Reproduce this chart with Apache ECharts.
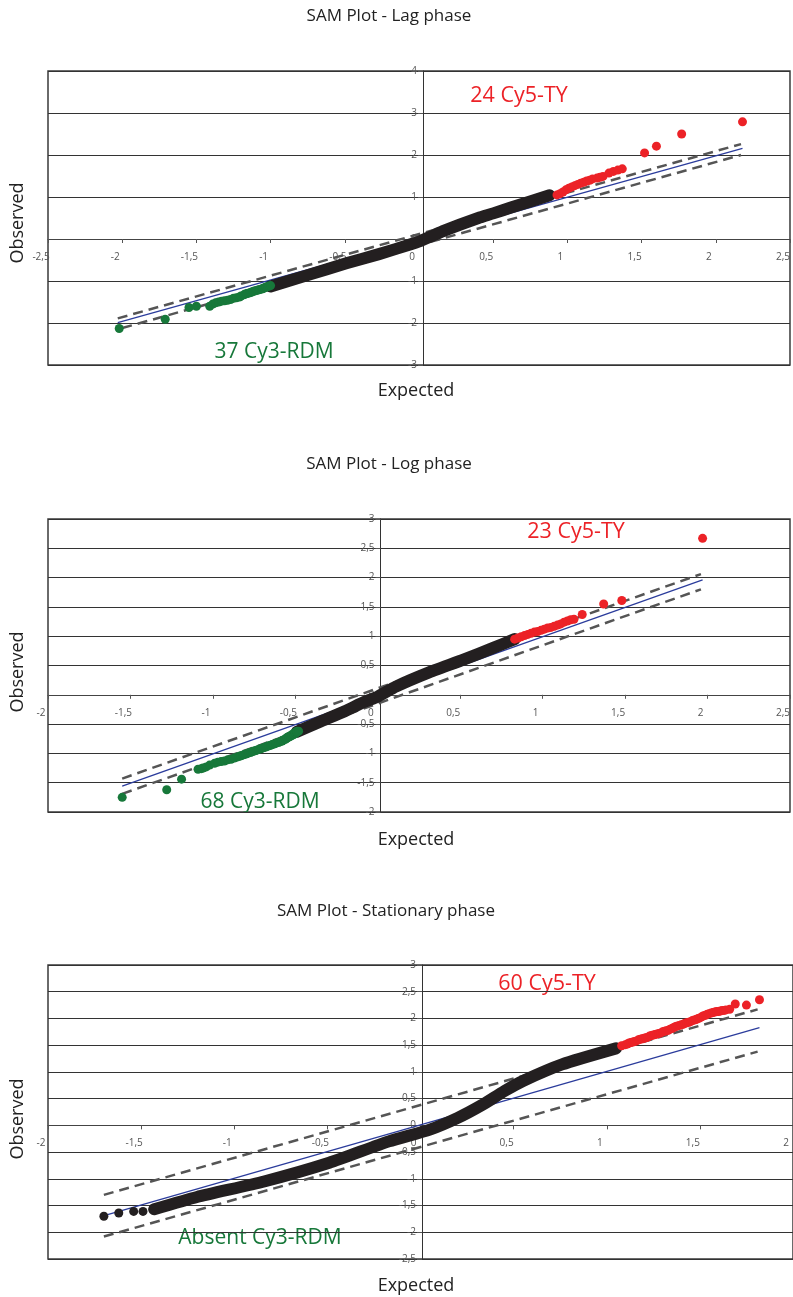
<!DOCTYPE html>
<html>
<head>
<meta charset="utf-8">
<script src="https://cdn.jsdelivr.net/npm/echarts@6/dist/echarts.min.js"></script>
<style>html,body{margin:0;padding:0;background:#fff}#c{width:793px;height:1297px}</style>
</head>
<body>
<div id="c"></div>
<script>
// ---------- Plot 1: Lag phase ----------
const lagBand = [[-1.00,-1.13],[-0.75,-0.86],[-0.49,-0.58],[-0.27,-0.36],[-0.05,-0.12],[0.00,-0.06],[0.08,0.06],[0.17,0.20],[0.40,0.50],[0.50,0.61],[0.62,0.75],[0.88,1.04]];
const lagRed = [[0.93,1.05],[0.95,1.08],[0.97,1.12],[0.99,1.17],[1.01,1.21],[1.03,1.24],[1.05,1.27],[1.07,1.30],[1.09,1.33],[1.11,1.35],[1.13,1.38],[1.15,1.40],[1.17,1.43],[1.20,1.45],[1.22,1.47],[1.24,1.49],[1.28,1.57],[1.31,1.61],[1.34,1.64],[1.37,1.67],[1.52,2.05],[1.60,2.21],[1.77,2.50],[2.18,2.79]];
const lagGreen = [[-2.02,-2.13],[-1.71,-1.91],[-1.55,-1.63],[-1.50,-1.60],[-1.41,-1.60],[-1.39,-1.55],[-1.37,-1.52],[-1.35,-1.50],[-1.33,-1.48],[-1.31,-1.47],[-1.29,-1.46],[-1.27,-1.44],[-1.25,-1.41],[-1.23,-1.40],[-1.21,-1.38],[-1.20,-1.36],[-1.18,-1.33],[-1.17,-1.31],[-1.16,-1.30],[-1.15,-1.29],[-1.14,-1.28],[-1.13,-1.27],[-1.12,-1.25],[-1.11,-1.24],[-1.10,-1.23],[-1.09,-1.22],[-1.08,-1.21],[-1.07,-1.20],[-1.06,-1.19],[-1.05,-1.18],[-1.05,-1.17],[-1.04,-1.16],[-1.03,-1.15],[-1.03,-1.14],[-1.02,-1.13],[-1.01,-1.12],[-1.00,-1.11]];
const lagExpected = [[-2.03,-1.99],[2.18,2.16]];
const lagUpper = [[-2.03,-1.89],[2.17,2.26]];
const lagLower = [[-2.00,-2.12],[2.17,2.00]];

// ---------- Plot 2: Log phase ----------
const logBand = [[-0.49,-0.63],[-0.35,-0.46],[-0.20,-0.28],[-0.08,-0.12],[0.00,-0.03],[0.11,0.14],[0.30,0.37],[0.52,0.60],[0.70,0.80],[0.83,0.95]];
const logRed = [[0.83,0.95],[0.85,0.97],[0.87,0.99],[0.89,1.01],[0.91,1.03],[0.93,1.05],[0.95,1.07],[0.97,1.08],[0.99,1.10],[1.01,1.12],[1.03,1.14],[1.05,1.15],[1.07,1.17],[1.09,1.19],[1.11,1.21],[1.13,1.24],[1.15,1.26],[1.17,1.28],[1.19,1.29],[1.24,1.37],[1.37,1.55],[1.48,1.61],[1.97,2.67]];
const logGreen = [[-1.55,-1.75],[-1.28,-1.62],[-1.19,-1.44],[-1.09,-1.27],[-1.07,-1.26],[-1.06,-1.25],[-1.04,-1.23],[-1.02,-1.20],[-0.99,-1.17],[-0.97,-1.15],[-0.95,-1.14],[-0.93,-1.13],[-0.91,-1.11],[-0.89,-1.10],[-0.87,-1.08],[-0.85,-1.06],[-0.84,-1.05],[-0.83,-1.04],[-0.82,-1.03],[-0.81,-1.02],[-0.80,-1.01],[-0.79,-1.00],[-0.78,-0.99],[-0.77,-0.98],[-0.76,-0.97],[-0.75,-0.96],[-0.74,-0.95],[-0.73,-0.94],[-0.72,-0.93],[-0.71,-0.92],[-0.70,-0.91],[-0.69,-0.90],[-0.68,-0.89],[-0.67,-0.88],[-0.66,-0.87],[-0.65,-0.86],[-0.64,-0.85],[-0.63,-0.84],[-0.62,-0.83],[-0.61,-0.82],[-0.60,-0.81],[-0.59,-0.80],[-0.58,-0.79],[-0.58,-0.78],[-0.57,-0.77],[-0.56,-0.76],[-0.56,-0.75],[-0.55,-0.74],[-0.55,-0.73],[-0.54,-0.72],[-0.54,-0.71],[-0.53,-0.71],[-0.53,-0.70],[-0.52,-0.69],[-0.52,-0.68],[-0.51,-0.68],[-0.51,-0.67],[-0.51,-0.66],[-0.50,-0.66],[-0.50,-0.65],[-0.50,-0.65],[-0.50,-0.64],[-0.49,-0.64],[-0.49,-0.63],[-0.49,-0.63],[-0.49,-0.63],[-0.49,-0.62],[-0.48,-0.62]];
const logExpected = [[-1.55,-1.56],[1.97,1.96]];
const logUpper = [[-1.55,-1.43],[1.96,2.06]];
const logLower = [[-1.55,-1.69],[1.96,1.80]];

// ---------- Plot 3: Stationary phase ----------
const statBand = [[-1.43,-1.57],[-1.20,-1.34],[-0.84,-1.05],[-0.49,-0.70],[-0.17,-0.30],[0.05,-0.08],[0.20,0.14],[0.33,0.38],[0.45,0.64],[0.55,0.83],[0.76,1.14],[1.05,1.44]];
const statBlack = [[-1.70,-1.70],[-1.62,-1.64],[-1.54,-1.61],[-1.49,-1.61],[-1.43,-1.57]];
const statRed = [[1.08,1.49],[1.10,1.51],[1.11,1.52],[1.12,1.54],[1.13,1.55],[1.14,1.56],[1.15,1.57],[1.16,1.58],[1.17,1.60],[1.18,1.61],[1.19,1.62],[1.20,1.63],[1.21,1.64],[1.22,1.65],[1.23,1.67],[1.24,1.68],[1.25,1.69],[1.26,1.70],[1.27,1.71],[1.28,1.72],[1.29,1.73],[1.30,1.75],[1.31,1.76],[1.32,1.77],[1.33,1.78],[1.34,1.80],[1.35,1.81],[1.36,1.83],[1.37,1.85],[1.38,1.86],[1.39,1.87],[1.40,1.88],[1.41,1.89],[1.42,1.91],[1.43,1.92],[1.44,1.93],[1.45,1.94],[1.46,1.96],[1.47,1.97],[1.48,1.98],[1.49,2.00],[1.50,2.01],[1.51,2.03],[1.52,2.05],[1.53,2.06],[1.54,2.08],[1.55,2.09],[1.56,2.10],[1.57,2.11],[1.58,2.12],[1.59,2.13],[1.60,2.13],[1.61,2.14],[1.62,2.15],[1.63,2.15],[1.64,2.16],[1.66,2.17],[1.69,2.27],[1.75,2.25],[1.82,2.35]];
const statExpected = [[-1.68,-1.67],[1.82,1.83]];
const statUpper = [[-1.70,-1.30],[1.81,2.17]];
const statLower = [[-1.70,-2.08],[1.81,1.38]];

// ---------- Axis definitions (tick values) ----------
const xRanges = [[-2.5,2.5,0.5],[-2,2.5,0.5],[-2,2,0.5]];
const yRanges = [[-3,4,1],[-2,3,0.5],[-2.5,3,0.5]];
const titles = ['SAM Plot - Lag phase','SAM Plot - Log phase','SAM Plot - Stationary phase'];
const redLabels = ['24 Cy5-TY','23 Cy5-TY','60 Cy5-TY'];
const greenLabels = ['37 Cy3-RDM','68 Cy3-RDM','Absent Cy3-RDM'];

const RED = '#ec2227', GREEN = '#17783a', BLACK = '#231f20', BLUE = '#2b3c9c', DASH = '#555555';
const FONT = '"Open Sans", "Noto Sans", sans-serif';
const fmt = v => String(v).replace('.', ',');

const grids = [
  {left:48, top:71, width:750, height:294},
  {left:48, top:519, width:748, height:293},
  {left:48, top:965, width:748, height:294}
];

const xAxis = [], yAxis = [], series = [];
grids.forEach((g, i) => {
  g.show = true; g.borderColor = '#3a3a3a'; g.borderWidth = 1.5; g.backgroundColor = 'transparent';
  const [x0, x1] = xRanges[i], [y0, y1] = yRanges[i];
  // axes cross at the origin: shift each axis from the grid edge to the zero of the other
  const xOff = -g.height * (0 - y0) / (y1 - y0);
  const yOff = -g.width * (0 - x0) / (x1 - x0);
  xAxis.push({
    type:'value', gridIndex:i, min:x0, max:x1, interval:xRanges[i][2], position:'bottom', offset:xOff,
    axisLine:{onZero:false, lineStyle:{color:'#444', width:1}},
    axisTick:{show:true, inside:false, length:4, lineStyle:{color:'#555'}},
    axisLabel:{formatter:fmt, fontSize:10, color:'#555', fontFamily:FONT, margin:13, padding:[0,14,0,0], showMinLabel:true, showMaxLabel:true},
    splitLine:{show:false}
  });
  yAxis.push({
    type:'value', gridIndex:i, min:y0, max:y1, interval:yRanges[i][2], position:'left', offset:yOff,
    axisLine:{onZero:false, lineStyle:{color:'#333', width:1}},
    axisTick:{show:true, length:5, lineStyle:{color:'#555'}},
    axisLabel:{formatter:fmt, fontSize:10, color:'#555', fontFamily:FONT, margin:6, padding:[7,0,0,0], showMinLabel:true, showMaxLabel:true},
    splitLine:{show:true, lineStyle:{color:'#333', width:1}}
  });
});

function addPlot(i, band, reds, greens, blacks, expected, upper, lower) {
  const ax = {xAxisIndex:i, yAxisIndex:i};
  series.push({type:'line', ...ax, data:upper, symbol:'none', lineStyle:{color:DASH, width:2.5, type:[10,6]}, silent:true, z:2});
  series.push({type:'line', ...ax, data:lower, symbol:'none', lineStyle:{color:DASH, width:2.5, type:[10,6]}, silent:true, z:2});
  series.push({type:'line', ...ax, data:expected, symbol:'none', lineStyle:{color:BLUE, width:1.3}, silent:true, z:3});
  series.push({type:'line', ...ax, data:band, symbol:'none', smooth:0.2, lineStyle:{color:BLACK, width:12, cap:'round', join:'round'}, silent:true, z:4});
  if (blacks) series.push({type:'scatter', ...ax, data:blacks, symbolSize:9, itemStyle:{color:BLACK, opacity:1}, silent:true, z:5});
  if (greens) series.push({type:'scatter', ...ax, data:greens, symbolSize:9, itemStyle:{color:GREEN, opacity:1}, silent:true, z:5});
  series.push({type:'scatter', ...ax, data:reds, symbolSize:9, itemStyle:{color:RED, opacity:1}, silent:true, z:5});
}
addPlot(0, lagBand, lagRed, lagGreen, null, lagExpected, lagUpper, lagLower);
addPlot(1, logBand, logRed, logGreen, null, logExpected, logUpper, logLower);
addPlot(2, statBand, statRed, null, statBlack, statExpected, statUpper, statLower);

const txt = (x, y, text, size, color, rot) => ({
  type:'text', x, y, rotation: rot || 0,
  style:{text, fontSize:size, fill:color, fontFamily:FONT, textAlign:'center', textVerticalAlign:'middle'}
});
const graphic = [
  txt(389, 16, titles[0], 17, '#222'),
  txt(389, 464, titles[1], 17, '#222'),
  txt(386, 911, titles[2], 17, '#222'),
  txt(416, 391, 'Expected', 18, '#222'),
  txt(416, 840, 'Expected', 18, '#222'),
  txt(416, 1286, 'Expected', 18, '#222'),
  txt(18, 223, 'Observed', 18, '#222', Math.PI/2),
  txt(18, 672, 'Observed', 18, '#222', Math.PI/2),
  txt(18, 1119, 'Observed', 18, '#222', Math.PI/2),
  txt(519, 96, redLabels[0], 21.5, RED),
  txt(576, 532, redLabels[1], 21.5, RED),
  txt(547, 984, redLabels[2], 21.5, RED),
  txt(274, 352, greenLabels[0], 21, GREEN),
  txt(260, 802, greenLabels[1], 21, GREEN),
  txt(260, 1238, greenLabels[2], 21, GREEN)
];

const chart = echarts.init(document.getElementById('c'), null, {renderer:'canvas'});
chart.setOption({
  animation:false,
  backgroundColor:'#fff',
  grid:grids, xAxis, yAxis, series, graphic
});
</script>
</body>
</html>
